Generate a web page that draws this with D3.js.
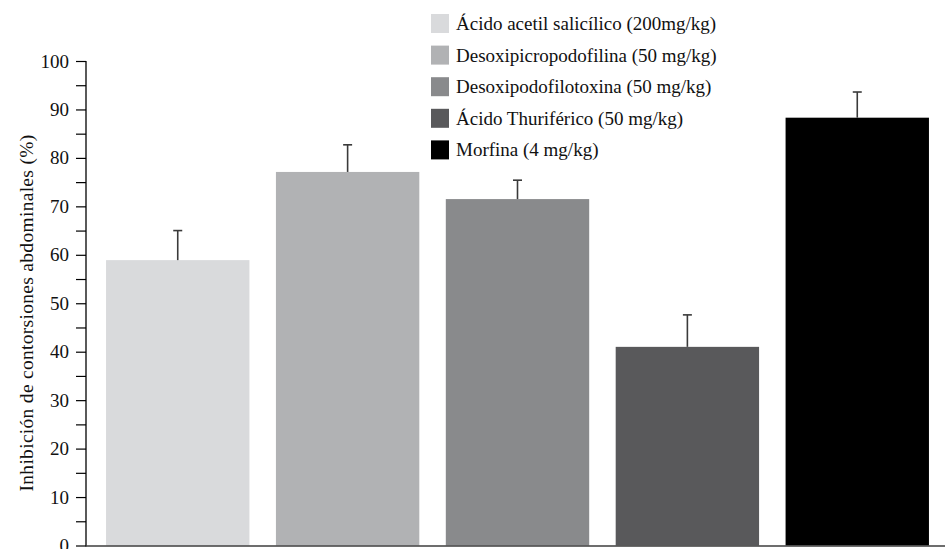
<!DOCTYPE html>
<html>
<head>
<meta charset="utf-8">
<script src="https://cdn.jsdelivr.net/npm/d3@7/dist/d3.min.js"></script>
<style>
  html, body { margin: 0; padding: 0; background: #fff; }
  svg { display: block; font-family: "Liberation Serif", "DejaVu Serif", serif; }
</style>
</head>
<body>
<svg id="chart" width="945" height="549"></svg>
<script>
const categories = [
  "Ácido acetil salicílico (200mg/kg)",
  "Desoxipicropodofilina (50 mg/kg)",
  "Desoxipodofilotoxina (50 mg/kg)",
  "Ácido Thuriférico (50 mg/kg)",
  "Morfina (4 mg/kg)"
];
const values = [58.9, 77.1, 71.5, 41.0, 88.3];
const errors = [6.1, 5.6, 3.9, 6.6, 5.3];
const colors = ["#d9dadc", "#b1b2b4", "#898a8c", "#59595b", "#000000"];
const yTicks = [0, 10, 20, 30, 40, 50, 60, 70, 80, 90, 100];
const yMinorTicks = [5, 15, 25, 35, 45, 55, 65, 75, 85, 95];
const yTitle = "Inhibición de contorsiones abdominales (%)";

const svg = d3.select("#chart");
const axisX = 86;
const y = d3.scaleLinear().domain([0, 100]).range([545.5, 61]);
const x = d3.scaleBand().domain(categories).range([86, 949])
  .paddingInner(0.156).paddingOuter(0.118);

// bars
svg.append("g").selectAll("rect").data(categories).join("rect")
  .attr("x", d => x(d))
  .attr("width", x.bandwidth())
  .attr("y", (d, i) => y(values[i]))
  .attr("height", (d, i) => y(0) - y(values[i]))
  .attr("fill", (d, i) => colors[i]);

// error bars
const eg = svg.append("g").attr("stroke", "#3a3a3a").attr("stroke-width", 1.6);
categories.forEach((c, i) => {
  const cx = x(c) + x.bandwidth() / 2;
  eg.append("line").attr("x1", cx).attr("x2", cx)
    .attr("y1", y(values[i])).attr("y2", y(values[i] + errors[i]));
  eg.append("line").attr("x1", cx - 4.5).attr("x2", cx + 4.5)
    .attr("y1", y(values[i] + errors[i])).attr("y2", y(values[i] + errors[i]));
});

// y axis
const yAxis = d3.axisLeft(y).tickValues(yTicks).tickSize(10).tickPadding(7).tickFormat(d3.format("d"));
const ga = svg.append("g").attr("transform", `translate(${axisX},0)`).call(yAxis);
ga.select(".domain").remove();
ga.selectAll(".tick line").attr("stroke", "#000").attr("stroke-width", 1.2);
ga.selectAll(".tick text").attr("font-size", 19).attr("fill", "#111")
  .attr("font-family", "Liberation Serif, DejaVu Serif, serif");
const yMinor = d3.axisLeft(y).tickValues(yMinorTicks).tickSize(10).tickFormat("");
const gm = svg.append("g").attr("transform", `translate(${axisX},0)`).call(yMinor);
gm.select(".domain").remove();
gm.selectAll(".tick line").attr("stroke", "#000").attr("stroke-width", 1.2);

svg.append("line").attr("x1", axisX).attr("x2", axisX)
  .attr("y1", y(100)).attr("y2", y(0) + 1)
  .attr("stroke", "#000").attr("stroke-width", 1.3);
svg.append("line").attr("x1", axisX).attr("x2", 945)
  .attr("y1", y(0) + 0.5).attr("y2", y(0) + 0.5)
  .attr("stroke", "#3c3c3c").attr("stroke-width", 1.5);

// y title
svg.append("text")
  .attr("transform", `translate(33,313) rotate(-90)`)
  .attr("text-anchor", "middle")
  .attr("font-size", 19.5)
  .attr("letter-spacing", 0.3)
  .attr("fill", "#111")
  .text(yTitle);

// legend
const lg = svg.append("g");
categories.forEach((c, i) => {
  const ty = 14 + i * 31.6;
  lg.append("rect").attr("x", 431).attr("y", ty).attr("width", 18).attr("height", 19)
    .attr("fill", colors[i]);
  lg.append("text").attr("x", 456).attr("y", ty + 16)
    .attr("font-size", 19).attr("fill", "#111").text(c);
});
</script>
</body>
</html>
